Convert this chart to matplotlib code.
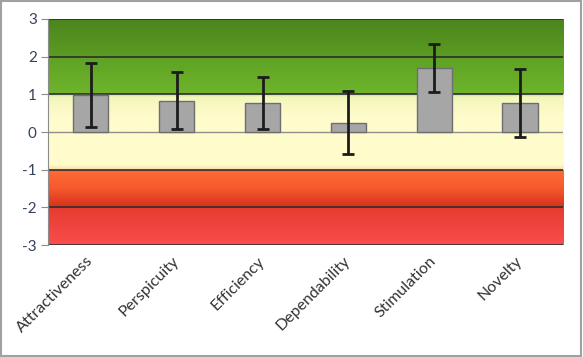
import numpy as np
import matplotlib.pyplot as plt
from matplotlib.colors import LinearSegmentedColormap
from matplotlib.patches import Rectangle

plt.rcParams['font.family'] = ['Lato', 'DejaVu Sans']

# scale means and confidence intervals
scales = ['Attractiveness', 'Perspicuity', 'Efficiency', 'Dependability', 'Stimulation', 'Novelty']
means = [0.99, 0.83, 0.77, 0.25, 1.70, 0.78]
conf = [0.85, 0.76, 0.70, 0.83, 0.63, 0.90]
yticks = [-3, -2, -1, 0, 1, 2, 3]

# benchmark bands: (bottom, top, colours from bottom to top)
bands = [
    (-3, -2, ['#fa4d4d', '#e53c30']),
    (-2, -1, ['#d8311d', '#f55a2c', '#ff6c36']),
    (-1, 1, ['#fed9a0', '#fffbcb', '#fffccc', '#fffccc', '#f4f6bc', '#c9e39a']),
    (1, 2, ['#6fb42b', '#5ea125']),
    (2, 3, ['#5c9c23', '#4b851d']),
]

fig = plt.figure(figsize=(5.83, 3.57), dpi=100)
ax = fig.add_axes([0.0823, 0.3137, 0.8834, 0.6331])

x = np.arange(len(scales))
xlo, xhi = -0.5, len(scales) - 0.5

for lo, hi, cols in bands:
    if len(cols) > 3:
        cmap = LinearSegmentedColormap.from_list('b', list(zip([0, 0.06, 0.3, 0.7, 0.96, 1.0], cols)))
    else:
        cmap = LinearSegmentedColormap.from_list('b', cols)
    grad = np.linspace(1, 0, 200).reshape(-1, 1)
    ax.imshow(grad, cmap=cmap, aspect='auto', extent=[xlo, xhi, lo, hi],
              vmin=0, vmax=1, zorder=0, interpolation='bilinear')

for yv in [-3, -2, -1, 1, 2, 3]:
    ax.axhline(yv, color='#2e2e2e', lw=1.2, zorder=1)
ax.axhline(0, color='#8f8f8f', lw=1, zorder=1)

ax.bar(x, means, width=0.41, color='#a6a6a6', edgecolor='#6e6e6e', lw=1, zorder=2)
ax.errorbar(x, means, yerr=conf, fmt='none', ecolor='#1c1c1c', elinewidth=2,
            capsize=4.5, capthick=2, zorder=3)

ax.set_xlim(xlo, xhi)
ax.set_ylim(-3, 3)
ax.set_yticks(yticks)
ax.set_yticklabels([str(v) for v in yticks], fontsize=11, color='#35435a')
ax.tick_params(axis='y', direction='out', length=5, color='#8c8c8c', pad=3)
ax.set_xticks(x)
ax.set_xticklabels(scales, rotation=45, ha='right', va='center', rotation_mode='anchor',
                   fontsize=11.5, color='#333333')
ax.tick_params(axis='x', length=0, pad=10)
for s in ['top', 'right', 'bottom']:
    ax.spines[s].set_visible(False)
ax.spines['left'].set_color('#8c8c8c')

fig.patches.append(Rectangle((0.002, 0.003), 0.995, 0.993, transform=fig.transFigure,
                             fill=False, edgecolor='#a0a0a0', lw=1.5))

fig.savefig('out.png', dpi=100)
